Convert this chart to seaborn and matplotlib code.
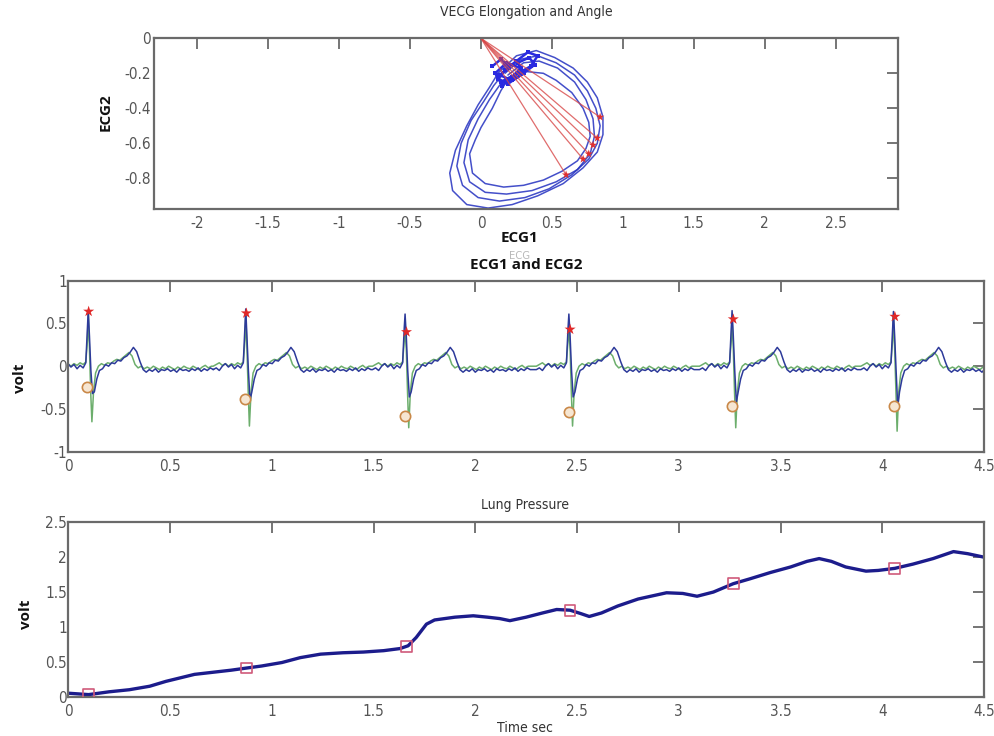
import numpy as np
import pandas as pd
import matplotlib
matplotlib.use("Agg")
import matplotlib.pyplot as plt
import seaborn as sns

sns.set_style("white")
plt.rcParams["font.family"] = ["DejaVu Sans"]
plt.rcParams["font.stretch"] = "condensed"

# ---------------- VECG loops (ECG1 vs ECG2) ----------------
loop_outer_x = [0.12, 0.25, 0.39, 0.52, 0.65, 0.75, 0.82, 0.86, 0.86, 0.82, 0.72, 0.58, 0.40, 0.22, 0.05, -0.10, -0.20, -0.22, -0.18, -0.10, -0.02, 0.06, 0.12]
loop_outer_y = [-0.20, -0.10, -0.07, -0.11, -0.17, -0.25, -0.34, -0.45, -0.55, -0.65, -0.74, -0.83, -0.90, -0.95, -0.97, -0.95, -0.87, -0.77, -0.64, -0.50, -0.38, -0.28, -0.20]
loop_mid1_x = [0.17, 0.28, 0.40, 0.53, 0.66, 0.75, 0.81, 0.84, 0.82, 0.76, 0.64, 0.48, 0.31, 0.13, -0.02, -0.13, -0.17, -0.14, -0.07, 0.02, 0.09, 0.14]
loop_mid1_y = [-0.20, -0.12, -0.10, -0.14, -0.21, -0.30, -0.40, -0.50, -0.60, -0.69, -0.78, -0.86, -0.91, -0.93, -0.91, -0.84, -0.73, -0.60, -0.47, -0.36, -0.27, -0.22]
loop_mid2_x = [0.19, 0.30, 0.41, 0.54, 0.66, 0.74, 0.79, 0.80, 0.77, 0.68, 0.53, 0.36, 0.18, 0.03, -0.08, -0.12, -0.09, -0.02, 0.06, 0.13, 0.17]
loop_mid2_y = [-0.21, -0.14, -0.13, -0.17, -0.25, -0.35, -0.46, -0.56, -0.66, -0.75, -0.82, -0.87, -0.89, -0.88, -0.82, -0.71, -0.58, -0.46, -0.35, -0.27, -0.23]
loop_inner_x = [0.20, 0.32, 0.44, 0.53, 0.64, 0.72, 0.76, 0.77, 0.74, 0.68, 0.57, 0.44, 0.30, 0.16, 0.03, -0.06, -0.08, -0.04, 0.00, 0.08, 0.14, 0.20]
loop_inner_y = [-0.22, -0.19, -0.20, -0.24, -0.31, -0.40, -0.48, -0.56, -0.63, -0.70, -0.76, -0.81, -0.84, -0.85, -0.83, -0.77, -0.66, -0.58, -0.51, -0.40, -0.30, -0.22]
cluster_x = [0.08, 0.14, 0.20, 0.13, 0.22, 0.30, 0.26, 0.34, 0.38, 0.30, 0.19, 0.12, 0.17, 0.25, 0.33, 0.40, 0.35, 0.24, 0.15, 0.10, 0.18, 0.28, 0.22, 0.14]
cluster_y = [-0.16, -0.12, -0.17, -0.21, -0.24, -0.20, -0.14, -0.11, -0.15, -0.20, -0.26, -0.23, -0.18, -0.13, -0.08, -0.10, -0.16, -0.21, -0.27, -0.20, -0.14, -0.17, -0.22, -0.25]
# elongation vectors from the origin to the farthest loop point of each beat
elong_x = [0.84, 0.82, 0.79, 0.76, 0.72, 0.60]
elong_y = [-0.45, -0.57, -0.61, -0.66, -0.69, -0.78]

# ---------------- ECG traces ----------------
beat_times = [0.098, 0.872, 1.655, 2.460, 3.262, 4.055]
ecg1_r_peak = [0.65, 0.67, 0.61, 0.61, 0.65, 0.64]
ecg1_s_wave = [-0.32, -0.40, -0.36, -0.36, -0.42, -0.47]
ecg2_r_peak = [0.64, 0.62, 0.40, 0.43, 0.55, 0.58]
ecg2_s_wave = [-0.65, -0.70, -0.72, -0.70, -0.72, -0.76]
# annotated points per beat
r_mark_t = [0.100, 0.875, 1.662, 2.466, 3.268, 4.062]
s_mark_t = [0.092, 0.870, 1.655, 2.462, 3.262, 4.060]
s_mark_v = [-0.24, -0.38, -0.58, -0.54, -0.47, -0.47]

# one-beat waveform shape, offsets in seconds from the R peak ("R"/"S" take per-beat values)
ecg1_shape_t = [-0.16, -0.145, -0.13, -0.115, -0.10, -0.085, -0.07, -0.055, -0.04, -0.025, -0.012, -0.004, 0.0, 0.006,
                0.013, 0.021, 0.03, 0.042, 0.055, 0.07, 0.085, 0.10, 0.115, 0.13, 0.145, 0.16, 0.175, 0.19, 0.205, 0.222,
                0.238, 0.255, 0.27, 0.285, 0.30, 0.315, 0.33, 0.345, 0.36, 0.375, 0.39, 0.405, 0.42, 0.435, 0.45, 0.465,
                0.48, 0.495, 0.51, 0.525, 0.54, 0.555, 0.57, 0.585, 0.60, 0.615]
ecg1_shape_v = [-0.04, -0.02, -0.05, 0.0, 0.03, -0.01, 0.02, -0.03, 0.01, -0.02, 0.04, 0.45, "R", 0.35,
                -0.05, "S", -0.30, -0.15, -0.05, -0.03, 0.02, 0.0, 0.04, 0.03, 0.07, 0.06, 0.10, 0.12, 0.16, 0.22,
                0.17, 0.05, -0.04, -0.07, -0.04, -0.06, -0.03, -0.07, -0.04, -0.05, -0.03, -0.06, -0.04, -0.07, -0.03, -0.05,
                -0.04, -0.06, -0.03, -0.05, -0.02, -0.06, -0.03, -0.05, -0.02, -0.04]
ecg2_shape_t = [-0.16, -0.145, -0.13, -0.115, -0.10, -0.085, -0.07, -0.055, -0.04, -0.025, -0.012, -0.004, 0.0, 0.006,
                0.012, 0.018, 0.026, 0.036, 0.05, 0.065, 0.08, 0.095, 0.11, 0.125, 0.14, 0.155, 0.17, 0.185, 0.20, 0.215,
                0.23, 0.245, 0.26, 0.275, 0.29, 0.305, 0.32, 0.335, 0.35, 0.365, 0.38, 0.395, 0.41, 0.425, 0.44, 0.455,
                0.47, 0.485, 0.50, 0.515, 0.53, 0.545, 0.56, 0.575, 0.59, 0.605]
ecg2_shape_v = [0.0, 0.02, 0.04, 0.01, 0.03, 0.0, 0.03, 0.01, 0.04, 0.02, 0.05, 0.30, "R", 0.20,
                -0.30, "S", -0.30, -0.08, 0.0, 0.03, 0.01, 0.04, 0.03, 0.06, 0.08, 0.07, 0.10, 0.13, 0.16, 0.12,
                0.02, -0.02, 0.0, -0.03, -0.01, -0.03, 0.0, -0.02, -0.04, -0.01, -0.03, 0.0, -0.02, -0.04, -0.01, -0.03,
                0.0, -0.02, -0.03, 0.0, -0.02, -0.04, -0.01, 0.01, -0.02, 0.0]

# ---------------- Lung pressure ----------------
lung_t = [0.0, 0.05, 0.10, 0.15, 0.20, 0.30, 0.40, 0.48, 0.55, 0.62, 0.71, 0.80, 0.874, 0.95, 1.05, 1.14, 1.24, 1.35,
          1.45, 1.55, 1.63, 1.67, 1.71, 1.76, 1.80, 1.90, 1.99, 2.06, 2.12, 2.17, 2.25, 2.33, 2.40, 2.466, 2.52, 2.56,
          2.62, 2.70, 2.80, 2.94, 3.02, 3.09, 3.17, 3.268, 3.35, 3.45, 3.55, 3.63, 3.69, 3.75, 3.82, 3.92, 3.98, 4.062,
          4.15, 4.25, 4.35, 4.42, 4.50]
lung_v = [0.05, 0.04, 0.03, 0.05, 0.07, 0.10, 0.15, 0.22, 0.27, 0.32, 0.35, 0.38, 0.41, 0.44, 0.49, 0.56, 0.61, 0.63,
          0.64, 0.66, 0.69, 0.73, 0.85, 1.04, 1.10, 1.14, 1.16, 1.14, 1.12, 1.09, 1.14, 1.20, 1.25, 1.24, 1.19, 1.15,
          1.20, 1.30, 1.40, 1.49, 1.48, 1.44, 1.50, 1.62, 1.69, 1.78, 1.86, 1.94, 1.98, 1.94, 1.86, 1.80, 1.81, 1.84,
          1.90, 1.98, 2.08, 2.05, 2.00]
lung_mark_t = [0.10, 0.874, 1.663, 2.466, 3.268, 4.062]
lung_mark_v = [0.04, 0.41, 0.72, 1.24, 1.62, 1.84]

# axis tick labels
vecg_xticks = [-2, -1.5, -1, -0.5, 0, 0.5, 1, 1.5, 2, 2.5]
vecg_xlabels = ["-2", "-1.5", "-1", "-0.5", "0", "0.5", "1", "1.5", "2", "2.5"]
vecg_yticks = [0, -0.2, -0.4, -0.6, -0.8]
vecg_ylabels = ["0", "-0.2", "-0.4", "-0.6", "-0.8"]
time_ticks = [0, 0.5, 1, 1.5, 2, 2.5, 3, 3.5, 4, 4.5]
time_labels = ["0", "0.5", "1", "1.5", "2", "2.5", "3", "3.5", "4", "4.5"]
ecg_yticks = [-1, -0.5, 0, 0.5, 1]
ecg_ylabels = ["-1", "-0.5", "0", "0.5", "1"]
lung_yticks = [0, 0.5, 1, 1.5, 2, 2.5]
lung_ylabels = ["0", "0.5", "1", "1.5", "2", "2.5"]


def build_trace(shape_t, shape_v, r_vals, s_vals):
    ts, vs = [], []
    for tb, r, s in zip(beat_times, r_vals, s_vals):
        for dt, v in zip(shape_t, shape_v):
            ts.append(tb + dt)
            vs.append(r if v == "R" else s if v == "S" else v)
    return pd.DataFrame({"t": ts, "v": vs})


ecg1 = build_trace(ecg1_shape_t, ecg1_shape_v, ecg1_r_peak, ecg1_s_wave)
ecg2 = build_trace(ecg2_shape_t, ecg2_shape_v, ecg2_r_peak, ecg2_s_wave)

fig = plt.figure(figsize=(9.95, 7.36), dpi=100)


def rect(l, t, r, b):
    return [l / 995, 1 - b / 736, (r - l) / 995, (b - t) / 736]


ax1 = fig.add_axes(rect(154, 38.3, 898, 209.3))
ax2 = fig.add_axes(rect(68.3, 280.7, 984, 451.7))
ax3 = fig.add_axes(rect(68.3, 522.3, 984, 696.7))

spine_col = "#6a6a6a"
tick_col = "#555555"
for ax in (ax1, ax2, ax3):
    for sp in ax.spines.values():
        sp.set_color(spine_col)
        sp.set_linewidth(1.6)
    ax.tick_params(direction="in", length=8, width=1.3, color=spine_col, top=True, right=True,
                   labelsize=11, labelcolor=tick_col)

# ---- VECG panel ----
loop_col = "#2330c0"
for lx, ly in ((loop_outer_x, loop_outer_y), (loop_mid1_x, loop_mid1_y),
               (loop_mid2_x, loop_mid2_y), (loop_inner_x, loop_inner_y)):
    sns.lineplot(x=lx, y=ly, ax=ax1, sort=False, estimator=None, color=loop_col, lw=1.1, alpha=0.85)
sns.lineplot(x=cluster_x, y=cluster_y, ax=ax1, sort=False, estimator=None, color="#2a2ae0", lw=1.8,
             marker="s", markersize=3.5, markeredgewidth=0)
for ex, ey in zip(elong_x, elong_y):
    sns.lineplot(x=[0, ex], y=[0, ey], ax=ax1, sort=False, estimator=None, color="#d84848", lw=0.9, alpha=0.8)
sns.scatterplot(x=elong_x, y=elong_y, ax=ax1, marker="*", s=40, color="#e03030", edgecolor="none", zorder=5)
ax1.set_xlim(-2.305, 2.94)
ax1.set_ylim(-0.977, 0)
ax1.set_xticks(vecg_xticks, vecg_xlabels)
ax1.set_yticks(vecg_yticks, vecg_ylabels)
ax1.set_xlabel("")
ax1.set_ylabel("")
ax1.tick_params(axis="y", pad=2)
ax1.tick_params(axis="x", pad=5)

# ---- ECG panel ----
sns.lineplot(data=ecg2, x="t", y="v", ax=ax2, sort=False, estimator=None, color="#6cae6c", lw=1.1)
sns.lineplot(data=ecg1, x="t", y="v", ax=ax2, sort=False, estimator=None, color="#2d3a9a", lw=1.1)
sns.scatterplot(x=r_mark_t, y=ecg2_r_peak, ax=ax2, marker="*", s=70, color="#e02828", edgecolor="none", zorder=5)
sns.scatterplot(x=s_mark_t, y=s_mark_v, ax=ax2, marker="o", s=55, facecolor="#f6e6d2", edgecolor="#c98848",
                linewidth=1.2, zorder=5)
ax2.set_xlim(0, 4.5)
ax2.set_ylim(-1, 1)
ax2.set_xticks(time_ticks, time_labels)
ax2.set_yticks(ecg_yticks, ecg_ylabels)
ax2.set_xlabel("")
ax2.set_ylabel("")
ax2.tick_params(axis="y", pad=1)
ax2.tick_params(axis="x", pad=5)

# ---- Lung pressure panel ----
sns.lineplot(x=lung_t, y=lung_v, ax=ax3, sort=False, estimator=None, color="#1c1c8c", lw=2.4)
sns.scatterplot(x=lung_mark_t, y=lung_mark_v, ax=ax3, marker="s", s=60, facecolor="none", edgecolor="#d05a7a",
                linewidth=1.2, zorder=5)
ax3.set_xlim(0, 4.5)
ax3.set_ylim(0, 2.5)
ax3.set_xticks(time_ticks, time_labels)
ax3.set_yticks(lung_yticks, lung_ylabels)
ax3.set_xlabel("")
ax3.set_ylabel("")
ax3.tick_params(axis="y", pad=1)
ax3.tick_params(axis="x", pad=5)

# ---- titles and axis labels ----
bold = dict(family=["Open Sans", "DejaVu Sans"], weight="bold", stretch="normal", color="#111111")
fig.text(526 / 995, 1 - 12 / 736, "VECG Elongation and Angle", ha="center", va="center", fontsize=10, color="#333333")
fig.text(520 / 995, 1 - 238 / 736, "ECG1", ha="center", va="center", fontsize=11, **bold)
fig.text(106 / 995, 1 - 112 / 736, "ECG2", ha="center", va="center", rotation=90, fontsize=11, **bold)
fig.text(520 / 995, 1 - 256 / 736, "ECG", ha="center", va="center", fontsize=8, color="#b8b8b8")
fig.text(526 / 995, 1 - 265 / 736, "ECG1 and ECG2", ha="center", va="center", fontsize=11, **bold)
fig.text(20 / 995, 1 - 378 / 736, "volt", ha="center", va="center", rotation=90, fontsize=11, **bold)
fig.text(525 / 995, 1 - 505 / 736, "Lung Pressure", ha="center", va="center", fontsize=10, color="#333333")
fig.text(26 / 995, 1 - 614 / 736, "volt", ha="center", va="center", rotation=90, fontsize=11, **bold)
fig.text(525 / 995, 1 - 728 / 736, "Time sec", ha="center", va="center", fontsize=10, color="#333333")

fig.savefig("out.png", dpi=100)
